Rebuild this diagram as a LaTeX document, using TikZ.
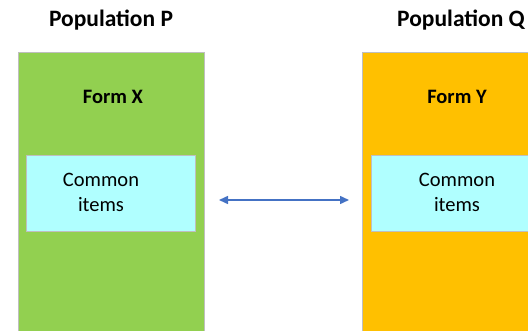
\documentclass[tikz,border=0pt]{standalone}
\usepackage{fontspec}
\setmainfont{Carlito}
\usetikzlibrary{positioning,arrows.meta}
\definecolor{formgreen}{HTML}{92D050}
\definecolor{formorange}{HTML}{FFC000}
\definecolor{itemcyan}{HTML}{B0FFFF}
\definecolor{framegray}{HTML}{BFBFBF}
\definecolor{linkblue}{HTML}{4472C4}
\tikzset{
 formbox/.style={draw=framegray, line width=1.2pt, minimum width=186pt, minimum height=300pt, anchor=north west, inner sep=0pt},
 itembox/.style={draw=framegray, line width=1pt, fill=itemcyan, minimum width=169pt, minimum height=76pt, anchor=north west, inner sep=0pt},
 poptext/.style={anchor=base, font=\fontsize{23.5}{28}\selectfont\bfseries},
 formtext/.style={anchor=base, font=\fontsize{20.5}{25}\selectfont\bfseries},
 itemtext/.style={anchor=base, font=\fontsize{20.5}{25}\selectfont}
}

\begin{document}
\begin{tikzpicture}[x=1pt,y=-1pt]
 \useasboundingbox (0,0) rectangle (528,331);
 \clip (0,0) rectangle (528,331);

 %Boxes
 \node (formX) [formbox, fill=formgreen] at (18,52) {};
 \node (formY) [formbox, fill=formorange] at (362,52) {};
 \node (commonX) [itembox] at (26,155) {};
 \node (commonY) [itembox] at (371,155) {};

 %Names
 \node (popP) [poptext] at (111,27) {Population P};
 \node (popQ) [poptext] at (461,27) {Population Q};
 \node (nameX) [formtext] at (113,103.5) {Form X};
 \node (nameY) [formtext] at (457,103.5) {Form Y};
 \node (textX) [itemtext] at (101,186.5) {Common};
 \node (itemsX) [itemtext] at (101,211.5) {items};
 \node (textY) [itemtext] at (457,186.5) {Common};
 \node (itemsY) [itemtext] at (457,211.5) {items};

 %Arrow
 \coordinate (linkL) at (219,200);
 \coordinate (linkR) at (349,200);
 \draw[{Triangle[length=9pt,width=8pt]}-{Triangle[length=9pt,width=8pt]}, linkblue, line width=1.5pt] (linkL) -- (linkR);

\end{tikzpicture}
\end{document}
